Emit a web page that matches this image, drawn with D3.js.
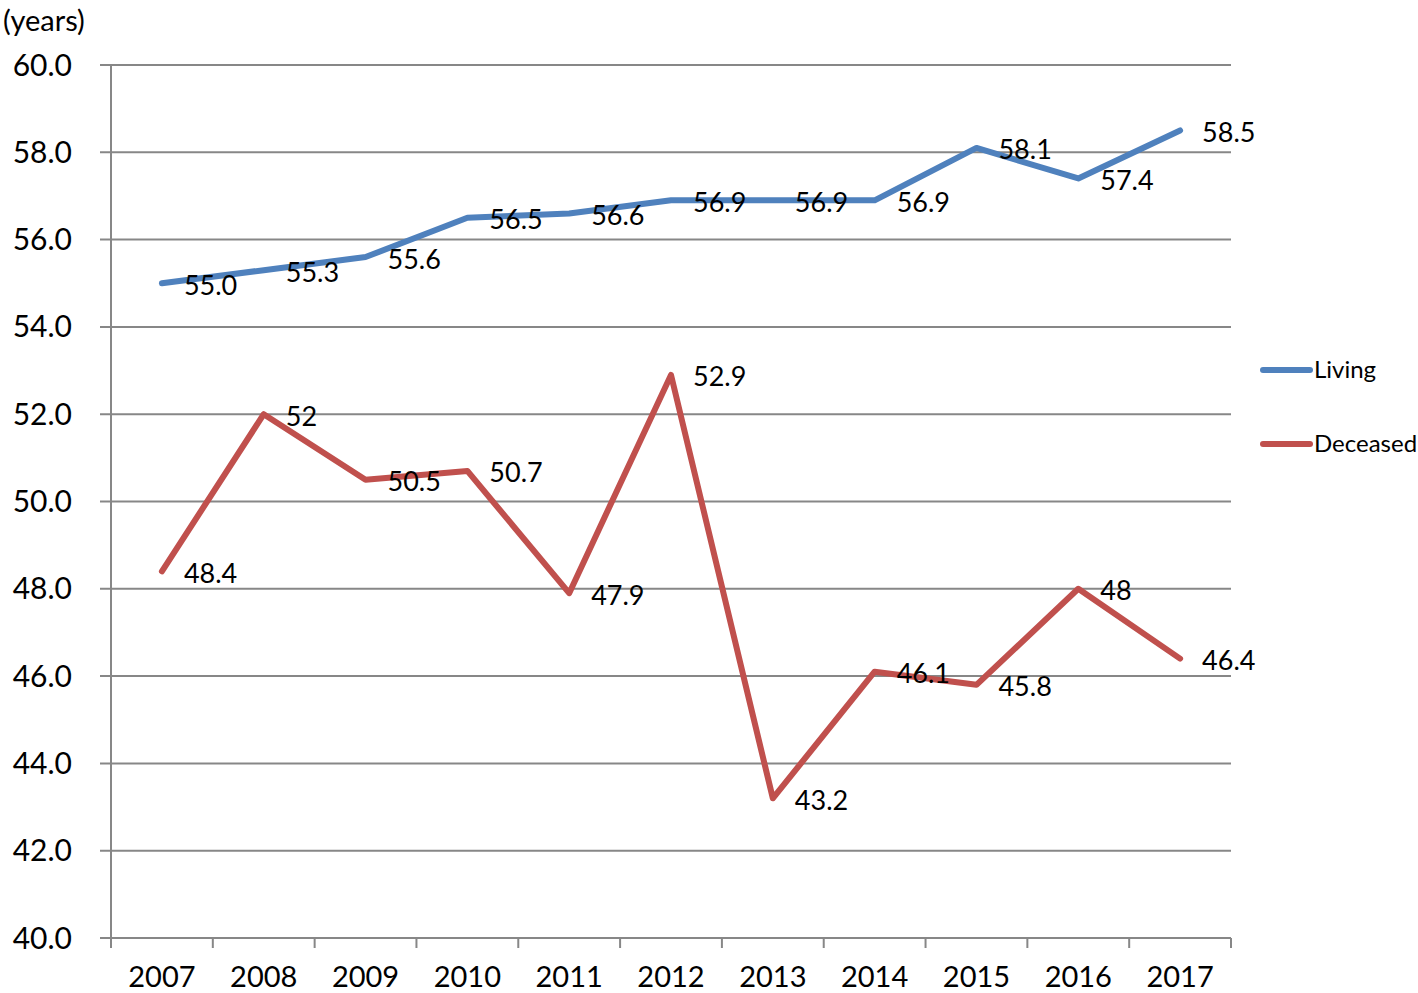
<!DOCTYPE html>
<html><head><meta charset="utf-8">
<script src="https://cdn.jsdelivr.net/npm/d3@7"></script>
<style>body{margin:0;background:#fff}svg{display:block}text{font-family:Lato,"Open Sans",sans-serif;fill:#000}</style>
</head><body>
<svg id="c" width="1418" height="993"></svg>
<script>
const years = ["2007","2008","2009","2010","2011","2012","2013","2014","2015","2016","2017"];
const living = [55.0,55.3,55.6,56.5,56.6,56.9,56.9,56.9,58.1,57.4,58.5];
const livingLabels = ["55.0","55.3","55.6","56.5","56.6","56.9","56.9","56.9","58.1","57.4","58.5"];
const deceased = [48.4,52,50.5,50.7,47.9,52.9,43.2,46.1,45.8,48,46.4];
const deceasedLabels = ["48.4","52","50.5","50.7","47.9","52.9","43.2","46.1","45.8","48","46.4"];
const yTicks = [40,42,44,46,48,50,52,54,56,58,60];

const svg = d3.select("#c");
const L=111, R=1231, T=65, B=938;
const x = d3.scaleBand().domain(years).range([L,R]);
const y = d3.scaleLinear().domain([40,60]).range([B,T]);

svg.append("g").selectAll("line").data(yTicks).join("line")
  .attr("x1",100).attr("x2",R).attr("y1",d=>y(d)).attr("y2",d=>y(d))
  .attr("stroke","#878787").attr("stroke-width",2);
svg.append("line").attr("x1",L).attr("x2",L).attr("y1",T).attr("y2",B+10).attr("stroke","#878787").attr("stroke-width",2);
const bounds = years.map(d=>x(d)).concat([R]);
svg.append("g").selectAll("line").data(bounds).join("line")
  .attr("x1",d=>d).attr("x2",d=>d).attr("y1",B).attr("y2",B+10)
  .attr("stroke","#878787").attr("stroke-width",2);
svg.append("g").selectAll("text").data(yTicks).join("text")
  .attr("x",72).attr("y",d=>y(d)).attr("dy","0.35em").attr("text-anchor","end")
  .attr("font-size",30).text(d=>d.toFixed(1));
svg.append("g").selectAll("text").data(years).join("text")
  .attr("x",d=>x(d)+x.bandwidth()/2).attr("y",987).attr("text-anchor","middle")
  .attr("font-size",29).text(d=>d);
svg.append("text").attr("x",3).attr("y",31).attr("font-size",29).text("(years)");

const line = d3.line().x((d,i)=>x(years[i])+x.bandwidth()/2).y(d=>y(d));
const series = [
  {vals:living, labels:livingLabels, color:"#4F81BD", name:"Living", ly:370},
  {vals:deceased, labels:deceasedLabels, color:"#C0504D", name:"Deceased", ly:444}
];
series.forEach(s=>{
  svg.append("path").datum(s.vals).attr("d",line).attr("fill","none")
    .attr("stroke",s.color).attr("stroke-width",6).attr("stroke-linejoin","round").attr("stroke-linecap","round");
});
series.forEach(s=>{
  svg.append("g").selectAll("text").data(s.vals).join("text")
    .attr("x",(d,i)=>x(years[i])+x.bandwidth()/2+22).attr("y",d=>y(d)+2).attr("dy","0.35em")
    .attr("font-size",27).text((d,i)=>s.labels[i]);
  svg.append("line").attr("x1",1263).attr("x2",1310).attr("y1",s.ly).attr("y2",s.ly)
    .attr("stroke",s.color).attr("stroke-width",6).attr("stroke-linecap","round");
  svg.append("text").attr("x",1314).attr("y",s.ly).attr("dy","0.35em").attr("font-size",24).text(s.name);
});
</script>
</body></html>
